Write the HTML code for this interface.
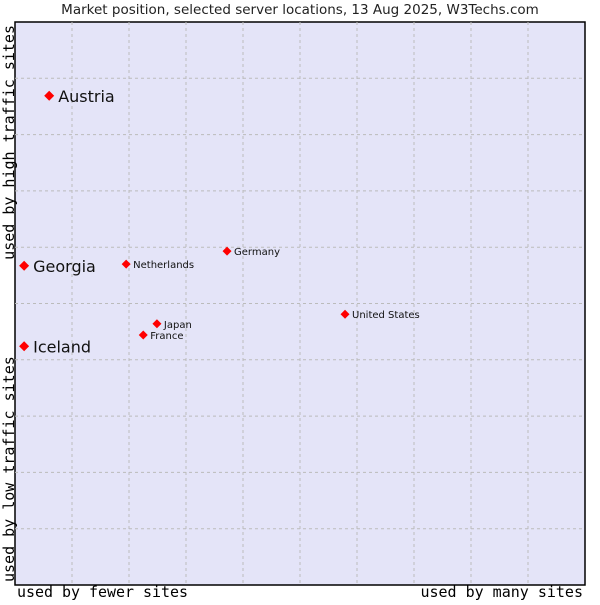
<!DOCTYPE html>
<html><head><meta charset="utf-8"><style>
body{margin:0;background:#fff;width:600px;height:600px;overflow:hidden}
svg{font-family:"DejaVu Sans","Liberation Sans",sans-serif}
</style></head><body>
<svg id="c" width="600" height="600">
<text x="300" y="14" text-anchor="middle" font-size="13.5" fill="#222">Market position, selected server locations, 13 Aug 2025, W3Techs.com</text>
<rect x="15" y="22" width="570" height="563" fill="#e4e4f8" stroke="#000" stroke-width="1.5"/>
<g id="grid"></g><g id="pts"></g>
<text x="17" y="597" font-family="DejaVu Sans Mono,monospace" font-size="15" textLength="171" lengthAdjust="spacingAndGlyphs" fill="#000">used by fewer sites</text>
<text x="583" y="597" text-anchor="end" font-family="DejaVu Sans Mono,monospace" font-size="15" fill="#000">used by many sites</text>
<text transform="translate(14,582) rotate(-90)" font-family="DejaVu Sans Mono,monospace" font-size="15" fill="#000">used by low traffic sites</text>
<text transform="translate(14,25) rotate(-90)" text-anchor="end" font-family="DejaVu Sans Mono,monospace" font-size="15" fill="#000">used by high traffic sites</text>
</svg>
<script>
const names=["Austria","Georgia","Iceland","Netherlands","Germany","United States","Japan","France"];
const xs=[0.6,0.16,0.16,1.95,3.72,5.79,2.49,2.25];
const ys=[8.69,5.67,4.24,5.70,5.93,4.81,4.64,4.44];
const big=[1,1,1,0,0,0,0,0];
const X=v=>15+v*57, Y=v=>585-v*56.3;
const ns="http://www.w3.org/2000/svg";
const g=document.getElementById('grid'), p=document.getElementById('pts');
for(let i=1;i<10;i++){
 let l=document.createElementNS(ns,'line');
 
 
 l.setAttribute('x1',X(i));l.setAttribute('x2',X(i));l.setAttribute('y1',22);l.setAttribute('y2',585);
 l.setAttribute('stroke','#bbb');l.setAttribute('stroke-dasharray','3,3');g.appendChild(l);
 let h=document.createElementNS(ns,'line');
 
 
 h.setAttribute('x1',15);h.setAttribute('x2',585);h.setAttribute('y1',Y(i));h.setAttribute('y2',Y(i));
 h.setAttribute('stroke','#bbb');h.setAttribute('stroke-dasharray','3,3');g.appendChild(h);
}
names.forEach((n,i)=>{
 const cx=X(xs[i]), cy=Y(ys[i]);
 let d=document.createElementNS(ns,'path');
 
 
 const r=big[i]?5:4.5;
 d.setAttribute('d',`M${cx-r} ${cy} L${cx} ${cy-r} L${cx+r} ${cy} L${cx} ${cy+r}Z`);
 d.setAttribute('fill','#f00');p.appendChild(d);
 let t=document.createElementNS(ns,'text');
 
 
 t.setAttribute('x',cx+(big[i]?9:7));t.setAttribute('y',cy+(big[i]?6:4));
 t.setAttribute('font-size',big[i]?16:10);t.setAttribute('fill','#111');
 t.textContent=n;p.appendChild(t);
});
</script>
</body></html>
